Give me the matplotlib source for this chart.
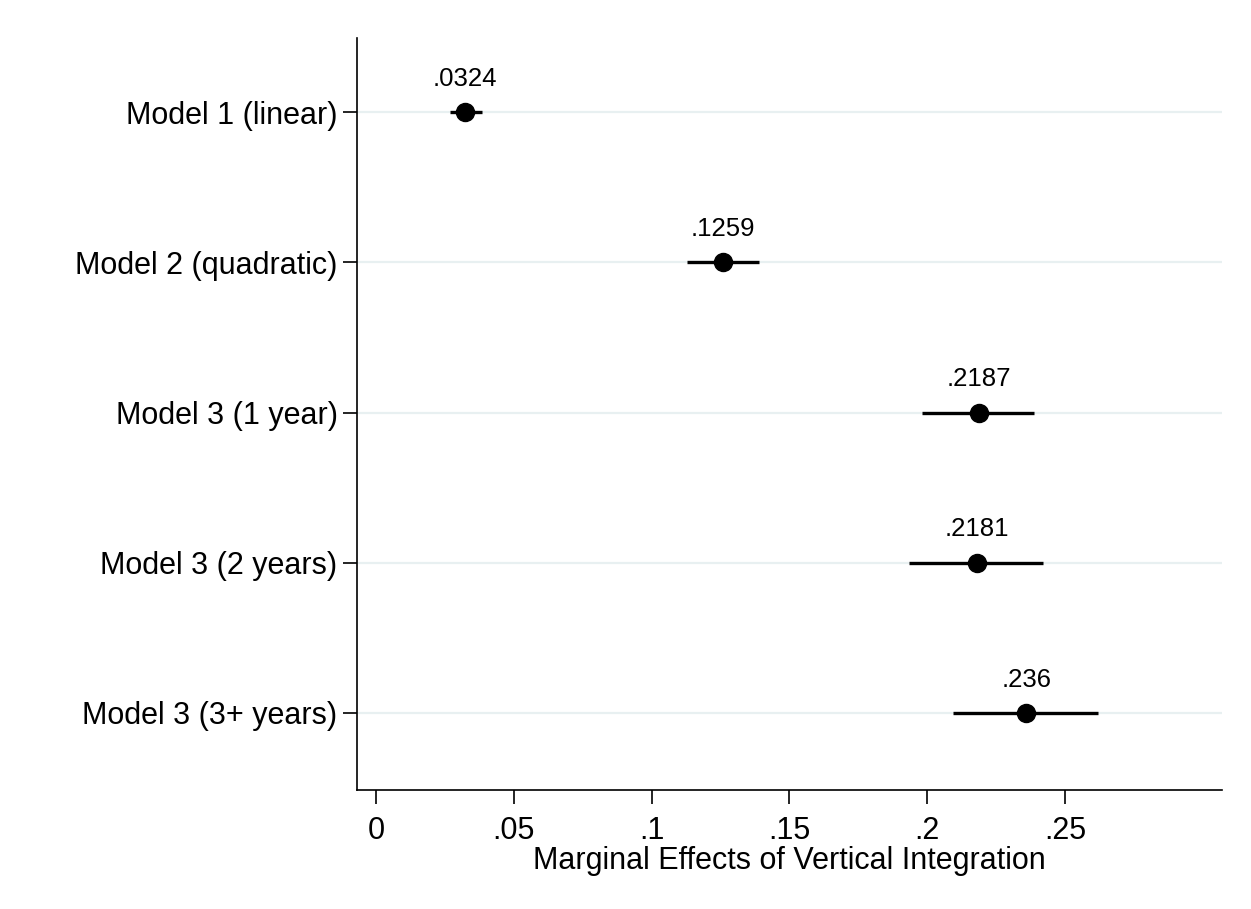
import matplotlib
matplotlib.use("Agg")
import matplotlib.pyplot as plt

plt.rcParams['font.family'] = ['Liberation Sans', 'DejaVu Sans']

models = ["Model 1 (linear)", "Model 2 (quadratic)", "Model 3 (1 year)",
          "Model 3 (2 years)", "Model 3 (3+ years)"]
estimates = [0.0324, 0.1259, 0.2187, 0.2181, 0.236]
ci_low = [0.0269, 0.1128, 0.1981, 0.1934, 0.2094]
ci_high = [0.0385, 0.1390, 0.2388, 0.2420, 0.2620]
est_labels = [".0324", ".1259", ".2187", ".2181", ".236"]
xticks = [0, 0.05, 0.1, 0.15, 0.2, 0.25]
xtick_labels = ["0", ".05", ".1", ".15", ".2", ".25"]

fig = plt.figure(figsize=(12.51, 9.09), dpi=100)
ax = fig.add_axes([0.2854, 0.1309, 0.6914, 0.8273])

ypos = list(range(1, len(models) + 1))

for y in ypos:
    ax.axhline(y, color="#e8f0f1", lw=1.6, zorder=0)

ax.hlines(ypos, ci_low, ci_high, color="black", lw=2.4, zorder=2)
ax.plot(estimates, ypos, "o", color="black", markersize=13, zorder=3)

for x, y, lab in zip(estimates, ypos, est_labels):
    ax.annotate(lab, (x, y), xytext=(0, 24), textcoords="offset points",
                ha="center", va="center", fontsize=18.5)

ax.set_xlim(-0.0069, 0.307)
ax.set_ylim(5.513, 0.507)
ax.set_yticks(ypos)
ax.set_yticklabels(models, fontsize=22)
ax.set_xticks(xticks)
ax.set_xticklabels(xtick_labels, fontsize=22)
ax.set_xlabel("Marginal Effects of Vertical Integration", fontsize=22, labelpad=0)

for s in ["top", "right"]:
    ax.spines[s].set_visible(False)
for s in ["left", "bottom"]:
    ax.spines[s].set_linewidth(1.2)
ax.tick_params(axis="y", length=10, width=1.2, pad=4)
ax.tick_params(axis="x", length=10, width=1.2, pad=9)

fig.savefig("out.png", dpi=100, facecolor="white")
